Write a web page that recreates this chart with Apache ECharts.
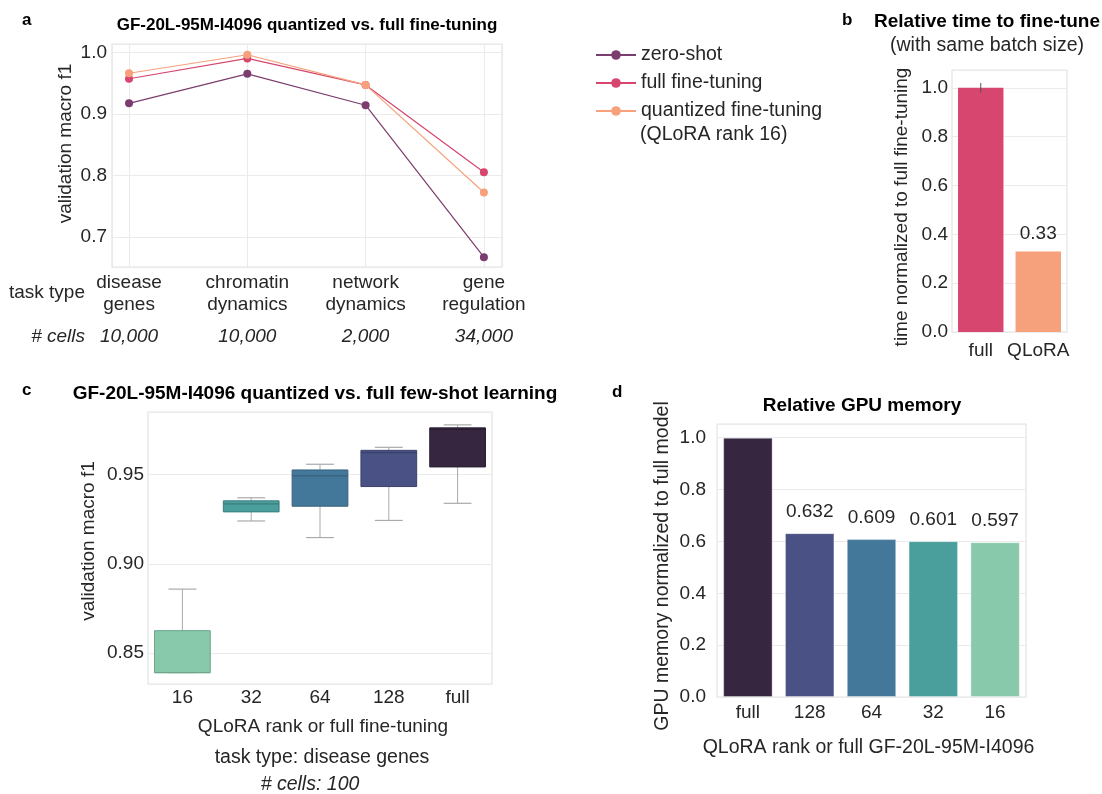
<!DOCTYPE html>
<html><head><meta charset="utf-8">
<script src="https://cdn.jsdelivr.net/npm/echarts@6/dist/echarts.min.js"></script>
<style>html,body{margin:0;padding:0;background:#fff}#c{width:1102px;height:794px}</style>
</head><body><div id="c"></div>
<script>
// ---- data ----
const tasks = ['disease genes', 'chromatin dynamics', 'network dynamics', 'gene regulation'];
const cellCounts = ['10,000', '10,000', '2,000', '34,000'];
const zeroShot = [0.917, 0.965, 0.914, 0.667];
const fullFT = [0.957, 0.990, 0.947, 0.805];
const quantFT = [0.966, 0.996, 0.947, 0.772];

const timeCats = ['full', 'QLoRA'];
const timeVals = [1.0, 0.33];
const timeErr = [0.02, null];

const rankCats = ['16', '32', '64', '128', 'full'];
const boxMin = [0.839, 0.924, 0.9147, 0.9243, 0.9339];
const boxQ1 = [0.839, 0.9291, 0.9323, 0.9433, 0.9543];
const boxMed = [0.839, 0.9336, 0.9493, 0.9623, 0.9753];
const boxQ3 = [0.8625, 0.9353, 0.9526, 0.9636, 0.9762];
const boxMax = [0.8858, 0.9370, 0.9558, 0.9653, 0.9779];

const memCats = ['full', '128', '64', '32', '16'];
const memVals = [1.0, 0.632, 0.609, 0.601, 0.597];

// ---- styles ----
const FONT = '"Liberation Sans", Arial, Helvetica, sans-serif';
const TXT = '#262626';
const GRID = '#ebebeb';
const BORDER = '#e3e3e3';
const FS = 19.5;
const magma = { zero: '#7b3c6e', full: '#d6466e', quant: '#f6a07c' };
const rankFill = { '16': '#87c9aa', '32': '#4a9e9c', '64': '#44789a', '128': '#4a5185', 'full': '#36263f' };
const rankEdge = { '16': '#6ea58b', '32': '#3b7f7d', '64': '#36607c', '128': '#3b416b', 'full': '#2a1d31' };

function valFmt(dec, step) {
  return function (v) {
    const k = v / step;
    return Math.abs(k - Math.round(k)) < 1e-6 ? v.toFixed(dec) : '';
  };
}

const chart = echarts.init(document.getElementById('c'), null, { renderer: 'canvas' });

const baseY = {
  axisLine: { show: false }, axisTick: { show: false },
  splitLine: { show: true, lineStyle: { color: GRID, width: 1 } },
  nameLocation: 'middle',
  axisLabel: { color: TXT, fontSize: 19, fontFamily: FONT, margin: 5 }
};

const option = {
  animation: false,
  textStyle: { fontFamily: FONT },
  grid: [
    { left: 112, top: 44, width: 390, height: 223, show: true, borderColor: BORDER, borderWidth: 1.2, containLabel: false },
    { left: 952, top: 70, width: 115, height: 262, show: true, borderColor: BORDER, borderWidth: 1.2 },
    { left: 148, top: 412, width: 344, height: 272, show: true, borderColor: BORDER, borderWidth: 1.2 },
    { left: 717, top: 424, width: 309, height: 273, show: true, borderColor: BORDER, borderWidth: 1.2 }
  ],
  legend: {
    left: 590, top: 40, orient: 'vertical', itemWidth: 40, itemHeight: 12, itemGap: 8,
    textStyle: { color: TXT, fontSize: FS, fontFamily: FONT, lineHeight: 20 },
    data: ['zero-shot', 'full fine-tuning', 'quantized fine-tuning']
  },
  xAxis: [
    {
      gridIndex: 0, type: 'value', min: -0.144, max: 3.153, splitNumber: 3, minInterval: 1, maxInterval: 1,
      axisLine: { show: false }, axisTick: { show: false },
      splitLine: { show: true, lineStyle: { color: GRID } },
      axisLabel: {
        margin: 5, interval: 0,
        formatter: function (v) {
          if (Math.abs(v - Math.round(v)) > 1e-6) return '';
          const i = Math.round(v);
          if (i < 0 || i >= tasks.length) return '';
          const p = tasks[i].split(' ');
          return '{n|' + p[0] + '}\n{n|' + p[1] + '}\n{c|' + cellCounts[i] + '}';
        },
        rich: {
          n: { fontSize: 19, lineHeight: 22, color: TXT, fontFamily: FONT, align: 'center' },
          c: { fontSize: 19, lineHeight: 42, color: TXT, fontFamily: FONT, fontStyle: 'italic', align: 'center' }
        }
      }
    },
    {
      gridIndex: 1, type: 'category', data: timeCats,
      axisLine: { show: false }, axisTick: { show: false },
      axisLabel: { color: TXT, fontSize: 19, fontFamily: FONT, margin: 9, interval: 0 }
    },
    {
      gridIndex: 2, type: 'category', data: rankCats,
      axisLine: { show: false }, axisTick: { show: false },
      axisLabel: { color: TXT, fontSize: 19, fontFamily: FONT, margin: 4, interval: 0 },
      name: 'QLoRA rank or full fine-tuning', nameLocation: 'middle', nameGap: 33,
      nameTextStyle: { color: TXT, fontSize: 19, fontFamily: FONT, padding: [0, 0, 0, 6] }
    },
    {
      gridIndex: 3, type: 'category', data: memCats,
      axisLine: { show: false }, axisTick: { show: false },
      axisLabel: { color: TXT, fontSize: 19, fontFamily: FONT, margin: 6, interval: 0 },
      name: 'QLoRA rank or full GF-20L-95M-I4096', nameLocation: 'middle', nameGap: 41,
      nameTextStyle: { color: TXT, fontSize: FS, fontFamily: FONT, padding: [0, 6, 0, 0] }
    }
  ],
  yAxis: [
    Object.assign({}, baseY, {
      gridIndex: 0, type: 'value', min: 0.651, max: 1.0135, splitNumber: 4, minInterval: 0.1, maxInterval: 0.1,
      name: 'validation macro f1', nameGap: 37,
      nameTextStyle: { color: TXT, fontSize: 19, fontFamily: FONT, padding: [0, 0, 0, 24] },
      axisLabel: Object.assign({}, baseY.axisLabel, { formatter: valFmt(1, 0.1) })
    }),
    Object.assign({}, baseY, {
      gridIndex: 1, type: 'value', min: 0, max: 1.073, interval: 0.2,
      name: 'time normalized to full fine-tuning', nameGap: 41,
      nameTextStyle: { color: TXT, fontSize: 19, fontFamily: FONT, padding: [0, 12, 0, 0] },
      axisLabel: Object.assign({}, baseY.axisLabel, { margin: 4, formatter: valFmt(1, 0.2) })
    }),
    Object.assign({}, baseY, {
      gridIndex: 2, type: 'value', min: 0.8326, max: 0.9851, splitNumber: 3, minInterval: 0.05, maxInterval: 0.05,
      name: 'validation macro f1', nameGap: 50,
      nameTextStyle: { color: TXT, fontSize: 19, fontFamily: FONT, padding: [0, 0, 0, 14] },
      axisLabel: Object.assign({}, baseY.axisLabel, { margin: 4, formatter: valFmt(2, 0.05) })
    }),
    Object.assign({}, baseY, {
      gridIndex: 3, type: 'value', min: 0, max: 1.053, interval: 0.2,
      name: 'GPU memory normalized to full model', nameGap: 44,
      nameTextStyle: { color: TXT, fontSize: FS, fontFamily: FONT, padding: [0, 11, 0, 0] },
      axisLabel: Object.assign({}, baseY.axisLabel, { margin: 11, formatter: valFmt(1, 0.2) })
    })
  ],
  series: [
    {
      name: 'zero-shot', type: 'line', xAxisIndex: 0, yAxisIndex: 0,
      data: zeroShot.map((v, i) => [i, v]), symbol: 'circle', symbolSize: 8,
      lineStyle: { color: magma.zero, width: 1.2 }, itemStyle: { color: magma.zero }, z: 3
    },
    {
      name: 'full fine-tuning', type: 'line', xAxisIndex: 0, yAxisIndex: 0,
      data: fullFT.map((v, i) => [i, v]), symbol: 'circle', symbolSize: 8,
      lineStyle: { color: magma.full, width: 1.2 }, itemStyle: { color: magma.full }, z: 4
    },
    {
      name: 'quantized fine-tuning', type: 'line', xAxisIndex: 0, yAxisIndex: 0,
      data: quantFT.map((v, i) => [i, v]), symbol: 'circle', symbolSize: 8,
      lineStyle: { color: magma.quant, width: 1.2 }, itemStyle: { color: magma.quant }, z: 5
    },
    {
      type: 'bar', xAxisIndex: 1, yAxisIndex: 1, barCategoryGap: '21%',
      data: timeVals.map((v, i) => ({
        value: v,
        itemStyle: { color: i === 0 ? magma.full : magma.quant },
        label: { show: i === 1 }
      })),
      label: { position: 'top', distance: 8, color: TXT, fontSize: 19, fontFamily: FONT, formatter: p => p.value.toFixed(2) }
    },
    {
      type: 'custom', xAxisIndex: 1, yAxisIndex: 1, z: 10,
      data: timeVals.map((v, i) => timeErr[i] == null ? null : [i, v - timeErr[i], v + timeErr[i]]).filter(d => d),
      renderItem: function (params, api) {
        const a = api.coord([api.value(0), api.value(1)]);
        const b = api.coord([api.value(0), api.value(2)]);
        return { type: 'line', shape: { x1: a[0], y1: a[1], x2: b[0], y2: b[1] }, style: { stroke: '#555', lineWidth: 1 } };
      }
    },
    {
      type: 'custom', xAxisIndex: 2, yAxisIndex: 2,
      encode: { x: 0, y: [1, 2, 3, 4, 5] },
      data: rankCats.map((r, i) => [i, boxMin[i], boxQ1[i], boxMed[i], boxQ3[i], boxMax[i]]),
      renderItem: function (params, api) {
        const i = api.value(0);
        const cw = api.size([1, 0])[0];
        const w = cw * 0.81, cap = w * 0.5;
        const xc = api.coord([i, api.value(1)])[0];
        const y = [1, 2, 3, 4, 5].map(k => api.coord([i, api.value(k)])[1]);
        const key = rankCats[i];
        const g = '#aaaaaa';
        return {
          type: 'group', children: [
            { type: 'line', shape: { x1: xc, y1: y[0], x2: xc, y2: y[1] }, style: { stroke: g, lineWidth: 1 } },
            { type: 'line', shape: { x1: xc - cap / 2, y1: y[0], x2: xc + cap / 2, y2: y[0] }, style: { stroke: g, lineWidth: 1.2 } },
            { type: 'line', shape: { x1: xc, y1: y[3], x2: xc, y2: y[4] }, style: { stroke: g, lineWidth: 1 } },
            { type: 'line', shape: { x1: xc - cap / 2, y1: y[4], x2: xc + cap / 2, y2: y[4] }, style: { stroke: g, lineWidth: 1.2 } },
            { type: 'rect', shape: { x: xc - w / 2, y: y[3], width: w, height: y[1] - y[3] }, style: { fill: rankFill[key], stroke: rankEdge[key], lineWidth: 1 } },
            { type: 'line', shape: { x1: xc - w / 2, y1: y[2], x2: xc + w / 2, y2: y[2] }, style: { stroke: rankEdge[key], lineWidth: 1.2 } }
          ]
        };
      }
    },
    {
      type: 'bar', xAxisIndex: 3, yAxisIndex: 3, barCategoryGap: '20%',
      data: memVals.map((v, i) => ({
        value: v,
        itemStyle: { color: rankFill[memCats[i]], borderColor: 'rgba(255,255,255,0.35)', borderWidth: 1 },
        label: { show: i > 0 }
      })),
      label: { position: 'top', distance: 12, color: TXT, fontSize: 19, fontFamily: FONT, formatter: p => p.value.toFixed(3) }
    }
  ],
  graphic: [
    { type: 'text', x: 22, y: 20, style: { text: 'a', font: 'bold 17px ' + FONT, fill: '#000', align: 'left', verticalAlign: 'middle' } },
    { type: 'text', x: 307, y: 25, style: { text: 'GF-20L-95M-I4096 quantized vs. full fine-tuning', font: 'bold 17px ' + FONT, fill: '#000', align: 'center', verticalAlign: 'middle' } },
    { type: 'text', x: 640, y: 135, style: { text: '(QLoRA rank 16)', font: FS + 'px ' + FONT, fill: TXT, align: 'left', verticalAlign: 'middle' } },
    { type: 'text', x: 85, y: 293, style: { text: 'task type', font: '19px ' + FONT, fill: TXT, align: 'right', verticalAlign: 'middle' } },
    { type: 'text', x: 85, y: 337, style: { text: '# cells', font: 'italic 19px ' + FONT, fill: TXT, align: 'right', verticalAlign: 'middle' } },
    { type: 'text', x: 842, y: 20, style: { text: 'b', font: 'bold 17px ' + FONT, fill: '#000', align: 'left', verticalAlign: 'middle' } },
    { type: 'text', x: 987, y: 22, style: { text: 'Relative time to fine-tune', font: 'bold 19px ' + FONT, fill: '#000', align: 'center', verticalAlign: 'middle' } },
    { type: 'text', x: 987, y: 46, style: { text: '(with same batch size)', font: FS + 'px ' + FONT, fill: TXT, align: 'center', verticalAlign: 'middle' } },
    { type: 'text', x: 22, y: 390, style: { text: 'c', font: 'bold 17px ' + FONT, fill: '#000', align: 'left', verticalAlign: 'middle' } },
    { type: 'text', x: 315, y: 394, style: { text: 'GF-20L-95M-I4096 quantized vs. full few-shot learning', font: 'bold 19px ' + FONT, fill: '#000', align: 'center', verticalAlign: 'middle' } },
    { type: 'text', x: 322, y: 758, style: { text: 'task type: disease genes', font: FS + 'px ' + FONT, fill: TXT, align: 'center', verticalAlign: 'middle' } },
    { type: 'text', x: 310, y: 785, style: { text: '# cells: 100', font: 'italic ' + FS + 'px ' + FONT, fill: TXT, align: 'center', verticalAlign: 'middle' } },
    { type: 'text', x: 612, y: 392, style: { text: 'd', font: 'bold 17px ' + FONT, fill: '#000', align: 'left', verticalAlign: 'middle' } },
    { type: 'text', x: 862, y: 406, style: { text: 'Relative GPU memory', font: 'bold 19px ' + FONT, fill: '#000', align: 'center', verticalAlign: 'middle' } }
  ]
};
chart.setOption(option);
</script>
</body></html>
